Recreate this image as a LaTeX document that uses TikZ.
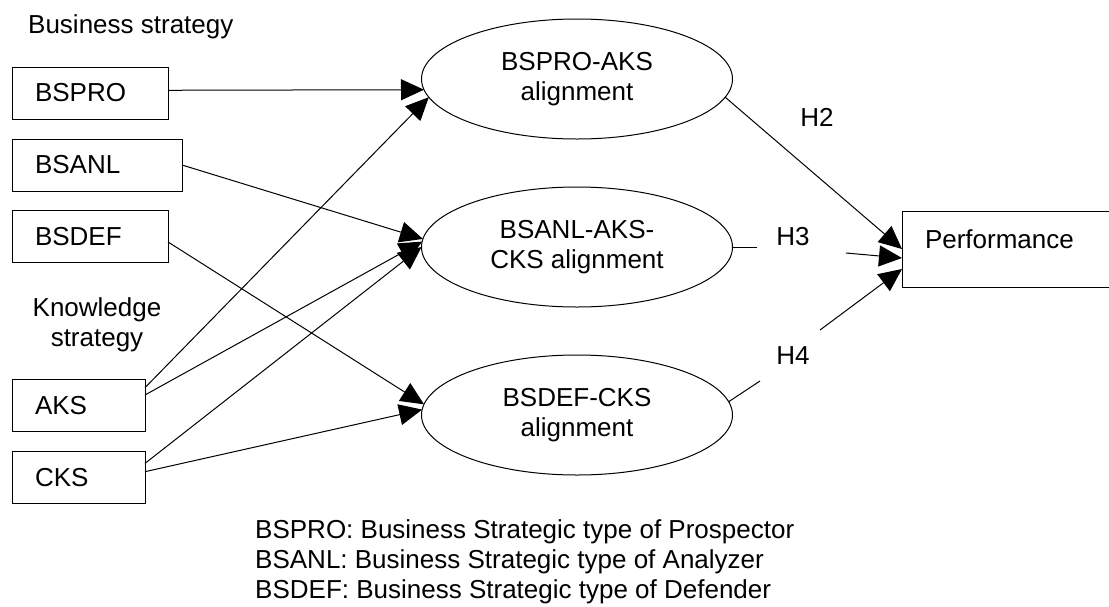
\documentclass[tikz,border=0pt]{standalone}
\usepackage{fontspec}
\setmainfont{Liberation Sans}
\usepackage{tikz}
\usetikzlibrary{arrows.meta, shapes.geometric, calc}

\begin{document}
\begin{tikzpicture}[
  x=1pt, y=-1pt,
  every node/.style={font=\fontsize{26}{30}\selectfont},
  line/.style={draw, line width=1pt, -{Triangle[length=23pt, width=21pt]}},
  plain/.style={draw, line width=1pt},
  box/.style={rectangle, draw, line width=1pt, anchor=west, align=left,
              minimum height=52pt, inner xsep=23pt, inner ysep=0pt, outer sep=0pt},
  oval/.style={ellipse, draw, line width=1pt, align=center,
              minimum width=311pt, minimum height=120pt, inner sep=0pt, outer sep=0pt}
]
\path[fill=white, use as bounding box] (0,0) rectangle (1109,606);

% =======================================================
%                     STRATEGY BOXES
% =======================================================
\node[anchor=base west, inner sep=0pt] (bstitle) at (28,33) {Business strategy};
\node[box, text width=110pt] (bspro) at (12,93) {BSPRO};
\node[box, text width=124pt] (bsanl) at (12,165) {BSANL};
\node[box, text width=110pt] (bsdef) at (12,236.5) {BSDEF};

\node[align=center] (kstitle) at (97,325) {Knowledge\\strategy};
\node[box, text width=87pt] (aks) at (12,405.5) {AKS};
\node[box, text width=87pt] (cks) at (12,477.5) {CKS};

% =======================================================
%                     ALIGNMENTS
% =======================================================
\node[oval] (e1) at (577,79) {BSPRO-AKS\\alignment};
\node[oval] (e2) at (577,247) {BSANL-AKS-\\CKS alignment};
\node[oval] (e3) at (577,415) {BSDEF-CKS\\alignment};

\node[box, minimum width=240pt, text width=194pt, text height=37pt, text depth=39pt,
      minimum height=0pt] (perf) at (902,249) {Performance};

% hypothesis labels
\node (h2) at (817,117) {H2};
\node (h3) at (793,237) {H3};
\node (h4) at (793,356) {H4};
\coordinate (h3a) at (757,247);
\coordinate (h3b) at (846,253);
\coordinate (h4a) at (760,381);
\coordinate (h4b) at (820,330);

% =======================================================
%                     CONNECTIONS
% =======================================================
\draw[line] (bspro.2) -- (e1.184);
\draw[line] (aks.15) -- (e1.187);
\draw[line] (bsanl.east) -- (e2.177);
\draw[line] (aks.9) -- (e2.178);
\draw[line] (cks.12) -- (e2.180);
\draw[line] (bsdef.-4) -- (e3.176);
\draw[line] (cks.5) -- (e3.178);

% alignments -> performance
\draw[line] (e1.353) -- (perf.west);
\draw[plain] (e2.east) -- (h3a);
\draw[line] (h3b) -- ([yshift=-9pt]perf.west);
\draw[plain] (e3.5) -- (h4a);
\draw[line] (h4b) -- ([yshift=-20pt]perf.west);

% legend
\node[anchor=base west, align=left, inner sep=0pt] (legend) at (255,598.5)
  {BSPRO: Business Strategic type of Prospector\\
   BSANL: Business Strategic type of Analyzer\\
   BSDEF: Business Strategic type of Defender};

\end{tikzpicture}
\end{document}
